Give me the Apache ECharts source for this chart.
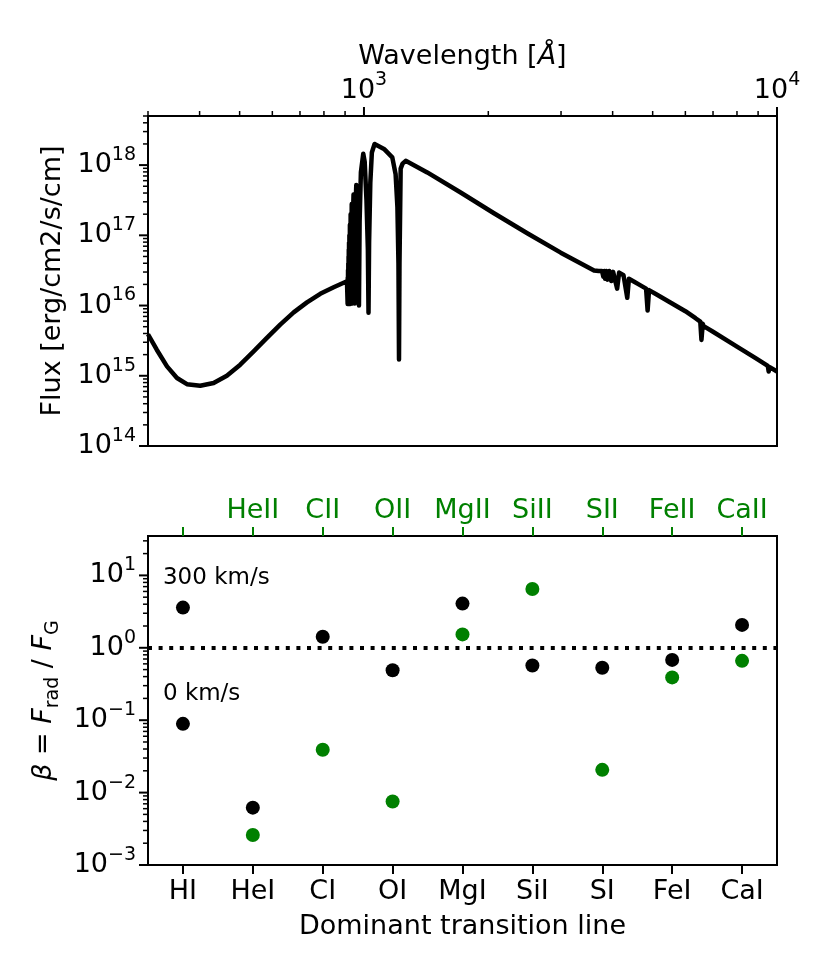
<!DOCTYPE html>
<html>
<head>
<meta charset="utf-8">
<script src="https://cdn.jsdelivr.net/npm/echarts@6/dist/echarts.min.js"></script>
<style>
  html, body { margin: 0; padding: 0; background: #fff; }
  #chart { width: 830px; height: 969px; }
</style>
</head>
<body>
<div id="chart"></div>
<script>
// ---- data ----
// top panel: model spectrum (wavelength in Angstrom, flux in erg/cm2/s/cm)
const wavelength = [
  300, 315, 333.5, 352.6, 372.7, 401.4, 432.5, 465.6, 501.7, 540.6, 582.1, 627, 675.8, 727.8,
  783.8, 844.6, 909.6,
  912, 913, 913.6, 914.3, 915, 915.8, 916.4, 917.2, 917.7, 918.1, 918.8, 919.35, 920.1, 920.96,
  922, 923.15, 924.6, 926.23, 928.4, 930.75, 934, 936.2, 937.8, 939.8, 943.5, 946, 949.7, 953,
  958, 967, 972.5, 976, 983, 996, 1004, 1014, 1022, 1025.7, 1029, 1036, 1045, 1061, 1118, 1171,
  1193, 1205, 1212, 1215.7, 1219, 1227, 1240, 1262,
  1423, 1714, 2064, 2485, 2995, 3606, 3700, 3770, 3798, 3820, 3835, 3860, 3889, 3925, 3970,
  4010, 4102, 4147, 4250, 4340, 4380, 4500, 4627, 4820, 4861, 4900, 5100, 5571, 6000, 6350,
  6520, 6563, 6610, 6644, 7000, 8000, 8876, 9500, 9546, 9600, 10000
];
const flux = [
  3.9e15, 2.35e15, 1.36e15, 9.3e14, 7.6e14, 7.2e14, 7.9e14, 1.0e15, 1.44e15, 2.22e15, 3.46e15,
  5.36e15, 8.0e15, 1.11e16, 1.47e16, 1.82e16, 2.22e16,
  2.24e16, 1.05e16, 2.5e16, 1.05e16, 3.2e16, 1.05e16, 4.0e16, 1.05e16, 5.0e16, 1.05e16, 6.3e16,
  1.05e16, 7.9e16, 1.05e16, 1.0e17, 1.05e16, 1.41e17, 1.05e16, 2.0e17, 1.07e16, 2.8e17,
  1.26e17, 1.07e16, 1.58e17, 3.8e17, 1.58e17, 1.07e16, 2.0e17, 5.2e17, 1.58e17, 1.0e16,
  1.58e17, 7.9e17, 1.45e18, 1.12e18, 3.2e17, 6.3e16, 7.9e15, 7.9e16, 5.6e17, 1.51e18, 2.0e18,
  1.7e18, 1.29e18, 7.4e17, 2.5e17, 4.0e16, 1.7e15, 4.0e16, 8.9e17, 1.05e18, 1.15e18,
  7.87e17, 4.07e17, 2.06e17, 1.07e17, 5.66e16, 3.16e16, 3.1e16, 3.1e16, 2.57e16, 3.1e16,
  2.4e16, 3.1e16, 2.34e16, 3.1e16, 2.24e16, 3.02e16, 1.74e16, 2.95e16, 2.7e16, 1.29e16, 2.4e16,
  2.2e16, 2.0e16, 1.74e16, 8.5e15, 1.66e16, 1.45e16, 1.07e16, 8.3e15, 6.6e15, 5.9e15, 3.24e15,
  5.5e15, 5.1e15, 4.24e15, 2.6e15, 1.78e15, 1.38e15, 1.15e15, 1.33e15, 1.15e15
];

// bottom panel: radiation-to-gravity ratio per dominant transition line
const lineNames = ['HI', 'HeI', 'CI', 'OI', 'MgI', 'SiI', 'SI', 'FeI', 'CaI'];
const ionNames = ['', 'HeII', 'CII', 'OII', 'MgII', 'SiII', 'SII', 'FeII', 'CaII'];
const neutralBeta = [3.59, 0.0062, 1.42, 0.49, 4.08, 0.57, 0.53, 0.68, 2.07];
const ionBeta = [null, 0.0026, 0.039, 0.00755, 1.53, 6.5, 0.0206, 0.39, 0.66];
const hiRestBeta = 0.089;
const velocityLabels = ['300 km/s', '0 km/s'];
const betaUnity = 1;

// axis ranges / ticks
const wlRange = [300, 10000];
const fluxRange = [1e14, 5e18];
const betaRange = [1e-3, 35];
const wlMajor = [1e3, 1e4];
const fluxMajor = [1e14, 1e15, 1e16, 1e17, 1e18];
const betaMajor = [1e-3, 1e-2, 1e-1, 1e0, 1e1];

function minorTicks(lo, hi) {
  const out = [];
  for (let e = Math.floor(Math.log10(lo)); e <= Math.ceil(Math.log10(hi)); e++) {
    for (let m = 2; m <= 9; m++) {
      const v = m * Math.pow(10, e);
      if (v >= lo * 0.999 && v <= hi * 1.001) out.push(v);
    }
  }
  return out;
}

const FONT = 'DejaVu Sans';
const FS = 27;
const SUB = 19;
const GREEN = '#008000';

const powRich = {
  b: { fontFamily: FONT, fontSize: FS, color: '#000' },
  s: { fontFamily: FONT, fontSize: SUB, color: '#000', verticalAlign: 'top', padding: [0, 0, 20, 0] }
};
function powLabel(v) {
  const l = Math.log10(v);
  const e = Math.round(l);
  if (Math.abs(l - e) > 1e-6) return '';
  return '{b|10}{s|' + String(e).replace('-', '\u2212') + '}';
}

// short tick marks drawn through the axes' own scales
function tickSeries(xi, yi, dir, values, anchor, len, width) {
  return {
    type: 'custom',
    xAxisIndex: xi,
    yAxisIndex: yi,
    clip: false,
    silent: true,
    z: 10,
    data: values.map(v => (dir === 'left' ? [anchor, v] : [v, anchor])),
    renderItem(params, api) {
      const cs = params.coordSys;
      const p = api.coord([api.value(0), api.value(1)]);
      const shape = dir === 'left'
        ? { x1: cs.x - len, y1: p[1], x2: cs.x, y2: p[1] }
        : { x1: p[0], y1: cs.y - len, x2: p[0], y2: cs.y };
      return { type: 'line', shape, style: { stroke: '#000', lineWidth: width } };
    }
  };
}

const chart = echarts.init(document.getElementById('chart'));

const spectrum = wavelength.map((w, i) => [w, flux[i]]);
const neutralData = neutralBeta.map((b, i) => {
  if (i === 0) return { value: [i, b], label: { show: true, formatter: velocityLabels[0] } };
  return [i, b];
});
neutralData.push({ value: [0, hiRestBeta], label: { show: true, formatter: velocityLabels[1] } });
const ionData = [];
ionBeta.forEach((b, i) => { if (b != null) ionData.push([i, b]); });

chart.setOption({
  animation: false,
  backgroundColor: '#fff',
  grid: [
    { left: 148, top: 116, width: 629, height: 330, show: true, borderColor: '#000', borderWidth: 2 },
    { left: 148, top: 536, width: 629, height: 329, show: true, borderColor: '#000', borderWidth: 2 }
  ],
  xAxis: [
    {
      gridIndex: 0, type: 'log', position: 'top', min: wlRange[0], max: wlRange[1],
      name: 'Wavelength [{i|Å}]', nameLocation: 'middle', nameGap: 33,
      nameTextStyle: {
        fontFamily: FONT, fontSize: FS, color: '#000',
        rich: { i: { fontFamily: FONT, fontSize: FS, fontStyle: 'italic', color: '#000' } }
      },
      axisLine: { show: true, lineStyle: { color: '#000', width: 2 } },
      axisTick: { show: false }, minorTick: { show: false },
      splitLine: { show: false },
      axisLabel: { margin: 6, formatter: powLabel, rich: powRich, showMinLabel: false }
    },
    {
      gridIndex: 1, type: 'category', position: 'bottom', data: lineNames,
      name: 'Dominant transition line', nameLocation: 'middle', nameGap: 48,
      nameTextStyle: { fontFamily: FONT, fontSize: FS, color: '#000' },
      axisLine: { show: true, lineStyle: { color: '#000', width: 2 } },
      axisTick: { show: true, alignWithLabel: true, length: 9, lineStyle: { color: '#000', width: 2 } },
      splitLine: { show: false },
      axisLabel: { interval: 0, margin: 13, fontFamily: FONT, fontSize: FS, color: '#000' }
    },
    {
      gridIndex: 1, type: 'category', position: 'top', data: ionNames,
      axisLine: { show: true, lineStyle: { color: '#000', width: 2 } },
      axisTick: { show: true, alignWithLabel: true, length: 9, lineStyle: { color: GREEN, width: 2 } },
      splitLine: { show: false },
      axisLabel: { interval: 0, margin: 12, fontFamily: FONT, fontSize: FS, color: GREEN }
    }
  ],
  yAxis: [
    {
      gridIndex: 0, type: 'log', min: fluxRange[0], max: fluxRange[1],
      name: 'Flux [erg/cm2/s/cm]', nameLocation: 'middle', nameGap: 76, nameRotate: 90,
      nameTextStyle: { fontFamily: FONT, fontSize: FS, color: '#000' },
      axisLine: { show: true, lineStyle: { color: '#000', width: 2 } },
      axisTick: { show: false }, minorTick: { show: false },
      splitLine: { show: false },
      axisLabel: { margin: 12, formatter: powLabel, rich: powRich, showMaxLabel: false }
    },
    {
      gridIndex: 1, type: 'log', min: betaRange[0], max: betaRange[1],
      name: '{i|β} = {i|F}{sub|rad} / {i|F}{sub|G}', nameLocation: 'middle', nameGap: 82, nameRotate: 90,
      nameTextStyle: {
        fontFamily: FONT, fontSize: FS, color: '#000',
        rich: {
          i: { fontFamily: FONT, fontSize: FS, fontStyle: 'italic', color: '#000' },
          sub: { fontFamily: FONT, fontSize: SUB, color: '#000', verticalAlign: 'bottom', padding: [18, 0, 0, 0] }
        }
      },
      axisLine: { show: true, lineStyle: { color: '#000', width: 2 } },
      axisTick: { show: false }, minorTick: { show: false },
      splitLine: { show: false },
      axisLabel: { margin: 12, formatter: powLabel, rich: powRich, showMaxLabel: false }
    }
  ],
  series: [
    {
      type: 'line', xAxisIndex: 0, yAxisIndex: 0, data: spectrum,
      showSymbol: false, symbol: 'none', clip: true,
      lineStyle: { color: '#000', width: 4.5, join: 'round' }
    },
    {
      type: 'scatter', xAxisIndex: 1, yAxisIndex: 1, data: neutralData,
      symbol: 'circle', symbolSize: 14, itemStyle: { color: '#000', opacity: 1 },
      label: {
        show: false, position: [-13, -23], align: 'left', verticalAlign: 'middle',
        fontFamily: FONT, fontSize: 23, color: '#000'
      },
      markLine: {
        silent: true, symbol: 'none', label: { show: false },
        lineStyle: { color: '#000', width: 4, type: [4, 6.6], cap: 'butt', opacity: 1 },
        data: [{ yAxis: betaUnity }]
      }
    },
    {
      type: 'scatter', xAxisIndex: 1, yAxisIndex: 1, data: ionData,
      symbol: 'circle', symbolSize: 14, itemStyle: { color: GREEN, opacity: 1 }
    },
    tickSeries(0, 0, 'left', fluxMajor, wlRange[0], 9, 2),
    tickSeries(0, 0, 'left', minorTicks(fluxRange[0], fluxRange[1]), wlRange[0], 5, 1.5),
    tickSeries(0, 0, 'top', wlMajor, fluxRange[0], 9, 2),
    tickSeries(0, 0, 'top', minorTicks(wlRange[0], wlRange[1]), fluxRange[0], 5, 1.5),
    tickSeries(1, 1, 'left', betaMajor, 0, 9, 2),
    tickSeries(1, 1, 'left', minorTicks(betaRange[0], betaRange[1]), 0, 5, 1.5)
  ]
});
</script>
</body>
</html>
